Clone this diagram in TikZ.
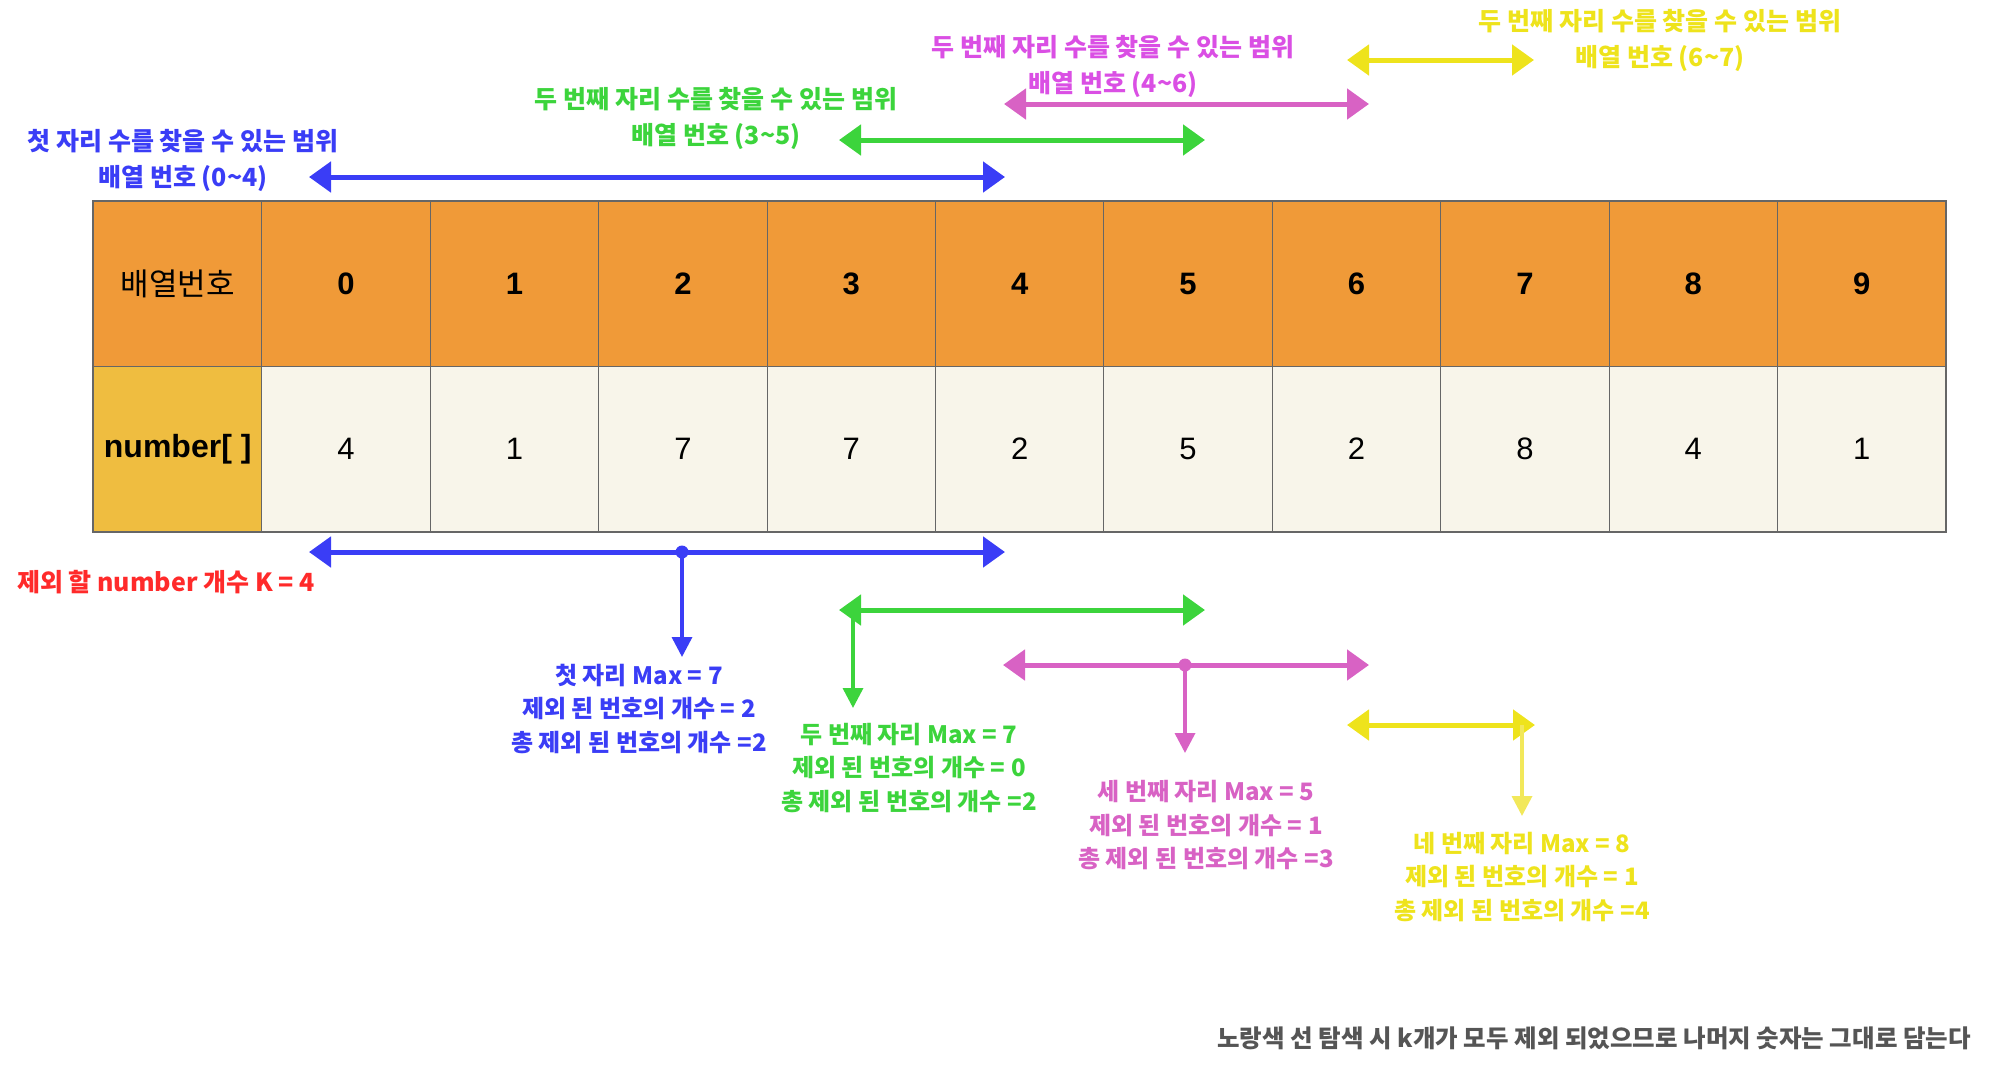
\documentclass[tikz,border=0pt]{standalone}
\usepackage{fontspec}
\usetikzlibrary{arrows.meta}
\newfontfamily\krn{Noto Sans CJK KR}
\newfontfamily\arl{Liberation Sans}
\definecolor{hdr}{HTML}{F09A38}
\definecolor{ylw}{HTML}{EFBD40}
\definecolor{crm}{HTML}{F8F5EA}
\definecolor{grid}{HTML}{666666}
\definecolor{cblue}{HTML}{3A3DF6}
\definecolor{cgreen}{HTML}{3CD43C}
\definecolor{cviolet}{HTML}{DA4FE4}
\definecolor{cpink}{HTML}{D862C4}
\definecolor{cyel}{HTML}{EEE31C}
\definecolor{cyel2}{HTML}{F2E85A}
\definecolor{cred}{HTML}{FF2A2A}
\definecolor{cgray}{HTML}{555555}
\begin{document}
\begin{tikzpicture}[x=1pt,y=-1pt,
  cell/.style={draw=grid, line width=1pt, minimum width=168.4pt, minimum height=165pt, inner sep=0pt, anchor=north west},
  hnum/.style={cell, fill=hdr, font=\arl\bfseries\fontsize{31}{31}\selectfont},
  vnum/.style={cell, fill=crm, font=\arl\fontsize{31}{31}\selectfont},
  rng/.style={line width=5pt, {Triangle[length=22pt,width=30pt]}-{Triangle[length=22pt,width=30pt]}},
  dn/.style={line width=3.5pt, -{Triangle[length=20pt,width=20pt]}},
  lbl/.style={font=\krn\bfseries\fontsize{25}{36}\selectfont, align=center, inner sep=0pt},
  res/.style={font=\krn\bfseries\fontsize{24}{33.5}\selectfont, align=center, inner sep=0pt},
  dot/.style={circle, inner sep=0pt, minimum size=13pt}
]
\useasboundingbox (0,0) rectangle (1998,1080);
% table
\node[cell, fill=hdr, font=\krn\fontsize{31}{31}\selectfont] (hL) at (93,201) {배열번호};
\node[cell, fill=ylw, font=\arl\bfseries\fontsize{32}{32}\selectfont] (vL) at (93,366) {number[ ]};
\foreach \i/\v in {0/4,1/1,2/7,3/7,4/2,5/5,6/2,7/8,8/4,9/1}{
  \node[hnum] (h\i) at ({93+168.4*(\i+1)},201) {\i};
  \node[vnum] (v\i) at ({93+168.4*(\i+1)},366) {\v};
}
\draw[grid, line width=1.5pt] (hL.north west) rectangle (v9.south east);

% top ranges
\coordinate (tb1) at (309,177); \coordinate (tb2) at (1005,177);
\draw[rng, cblue] (tb1) -- (tb2);
\node[lbl, text=cblue] (tbl) at (183,160) {첫 자리 수를 찾을 수 있는 범위\\배열 번호 (0\textasciitilde 4)};

\coordinate (tg1) at (839,140); \coordinate (tg2) at (1205,140);
\draw[rng, cgreen] (tg1) -- (tg2);
\node[lbl, text=cgreen] (tgl) at (716,118.5) {두 번째 자리 수를 찾을 수 있는 범위\\배열 번호 (3\textasciitilde 5)};

\coordinate (tm1) at (1004,104); \coordinate (tm2) at (1369,104);
\draw[rng, cpink] (tm1) -- (tm2);
\node[lbl, text=cviolet] (tml) at (1113,66.5) {두 번째 자리 수를 찾을 수 있는 범위\\배열 번호 (4\textasciitilde 6)};

\coordinate (ty1) at (1347,60); \coordinate (ty2) at (1534,60);
\draw[rng, cyel] (ty1) -- (ty2);
\node[lbl, text=cyel] (tyl) at (1660,40.5) {두 번째 자리 수를 찾을 수 있는 범위\\배열 번호 (6\textasciitilde 7)};

% bottom: blue
\coordinate (bb1) at (309,552); \coordinate (bb2) at (1005,552);
\draw[rng, cblue] (bb1) -- (bb2);
\node[dot, fill=cblue] (bbd) at (682,552) {};
\coordinate (bbt) at (682,657);
\draw[dn, cblue] (bbd.center) -- (bbt);
\node[res, text=cred, font=\krn\bfseries\fontsize{25}{25}\selectfont] (kl) at (166,582) {제외 할 number 개수 K = 4};
\node[res, text=cblue] (bbl) at (639,708.5) {첫 자리 Max = 7\\제외 된 번호의 개수 = 2\\총 제외 된 번호의 개수 =2};

% bottom: green
\coordinate (bg1) at (839,610); \coordinate (bg2) at (1205,610);
\draw[rng, cgreen] (bg1) -- (bg2);
\coordinate (bgs) at (853,610); \coordinate (bgt) at (853,708);
\draw[dn, cgreen] (bgs) -- (bgt);
\node[res, text=cgreen] (bgl) at (909,768) {두 번째 자리 Max = 7\\제외 된 번호의 개수 = 0\\총 제외 된 번호의 개수 =2};

% bottom: pink
\coordinate (bm1) at (1003,665); \coordinate (bm2) at (1369,665);
\draw[rng, cpink] (bm1) -- (bm2);
\node[dot, fill=cpink] (bmd) at (1185,665) {};
\coordinate (bmt) at (1185,753);
\draw[dn, cpink] (bmd.center) -- (bmt);
\node[res, text=cpink] (bml) at (1206,825.5) {세 번째 자리 Max = 5\\제외 된 번호의 개수 = 1\\총 제외 된 번호의 개수 =3};

% bottom: yellow
\coordinate (by1) at (1347,725); \coordinate (by2) at (1535,725);
\draw[rng, cyel] (by1) -- (by2);
\coordinate (bys) at (1522,725); \coordinate (byt) at (1522,816);
\draw[dn, cyel2] (bys) -- (byt);
\node[res, text=cyel] (byl) at (1522,877) {네 번째 자리 Max = 8\\제외 된 번호의 개수 = 1\\총 제외 된 번호의 개수 =4};

% note
\node[font=\krn\bfseries\fontsize{24.5}{24.5}\selectfont, text=cgray, anchor=east, inner sep=0pt] (note) at (1971,1038) {노랑색 선 탐색 시 k개가 모두 제외 되었으므로 나머지 숫자는 그대로 담는다};
\end{tikzpicture}
\end{document}
